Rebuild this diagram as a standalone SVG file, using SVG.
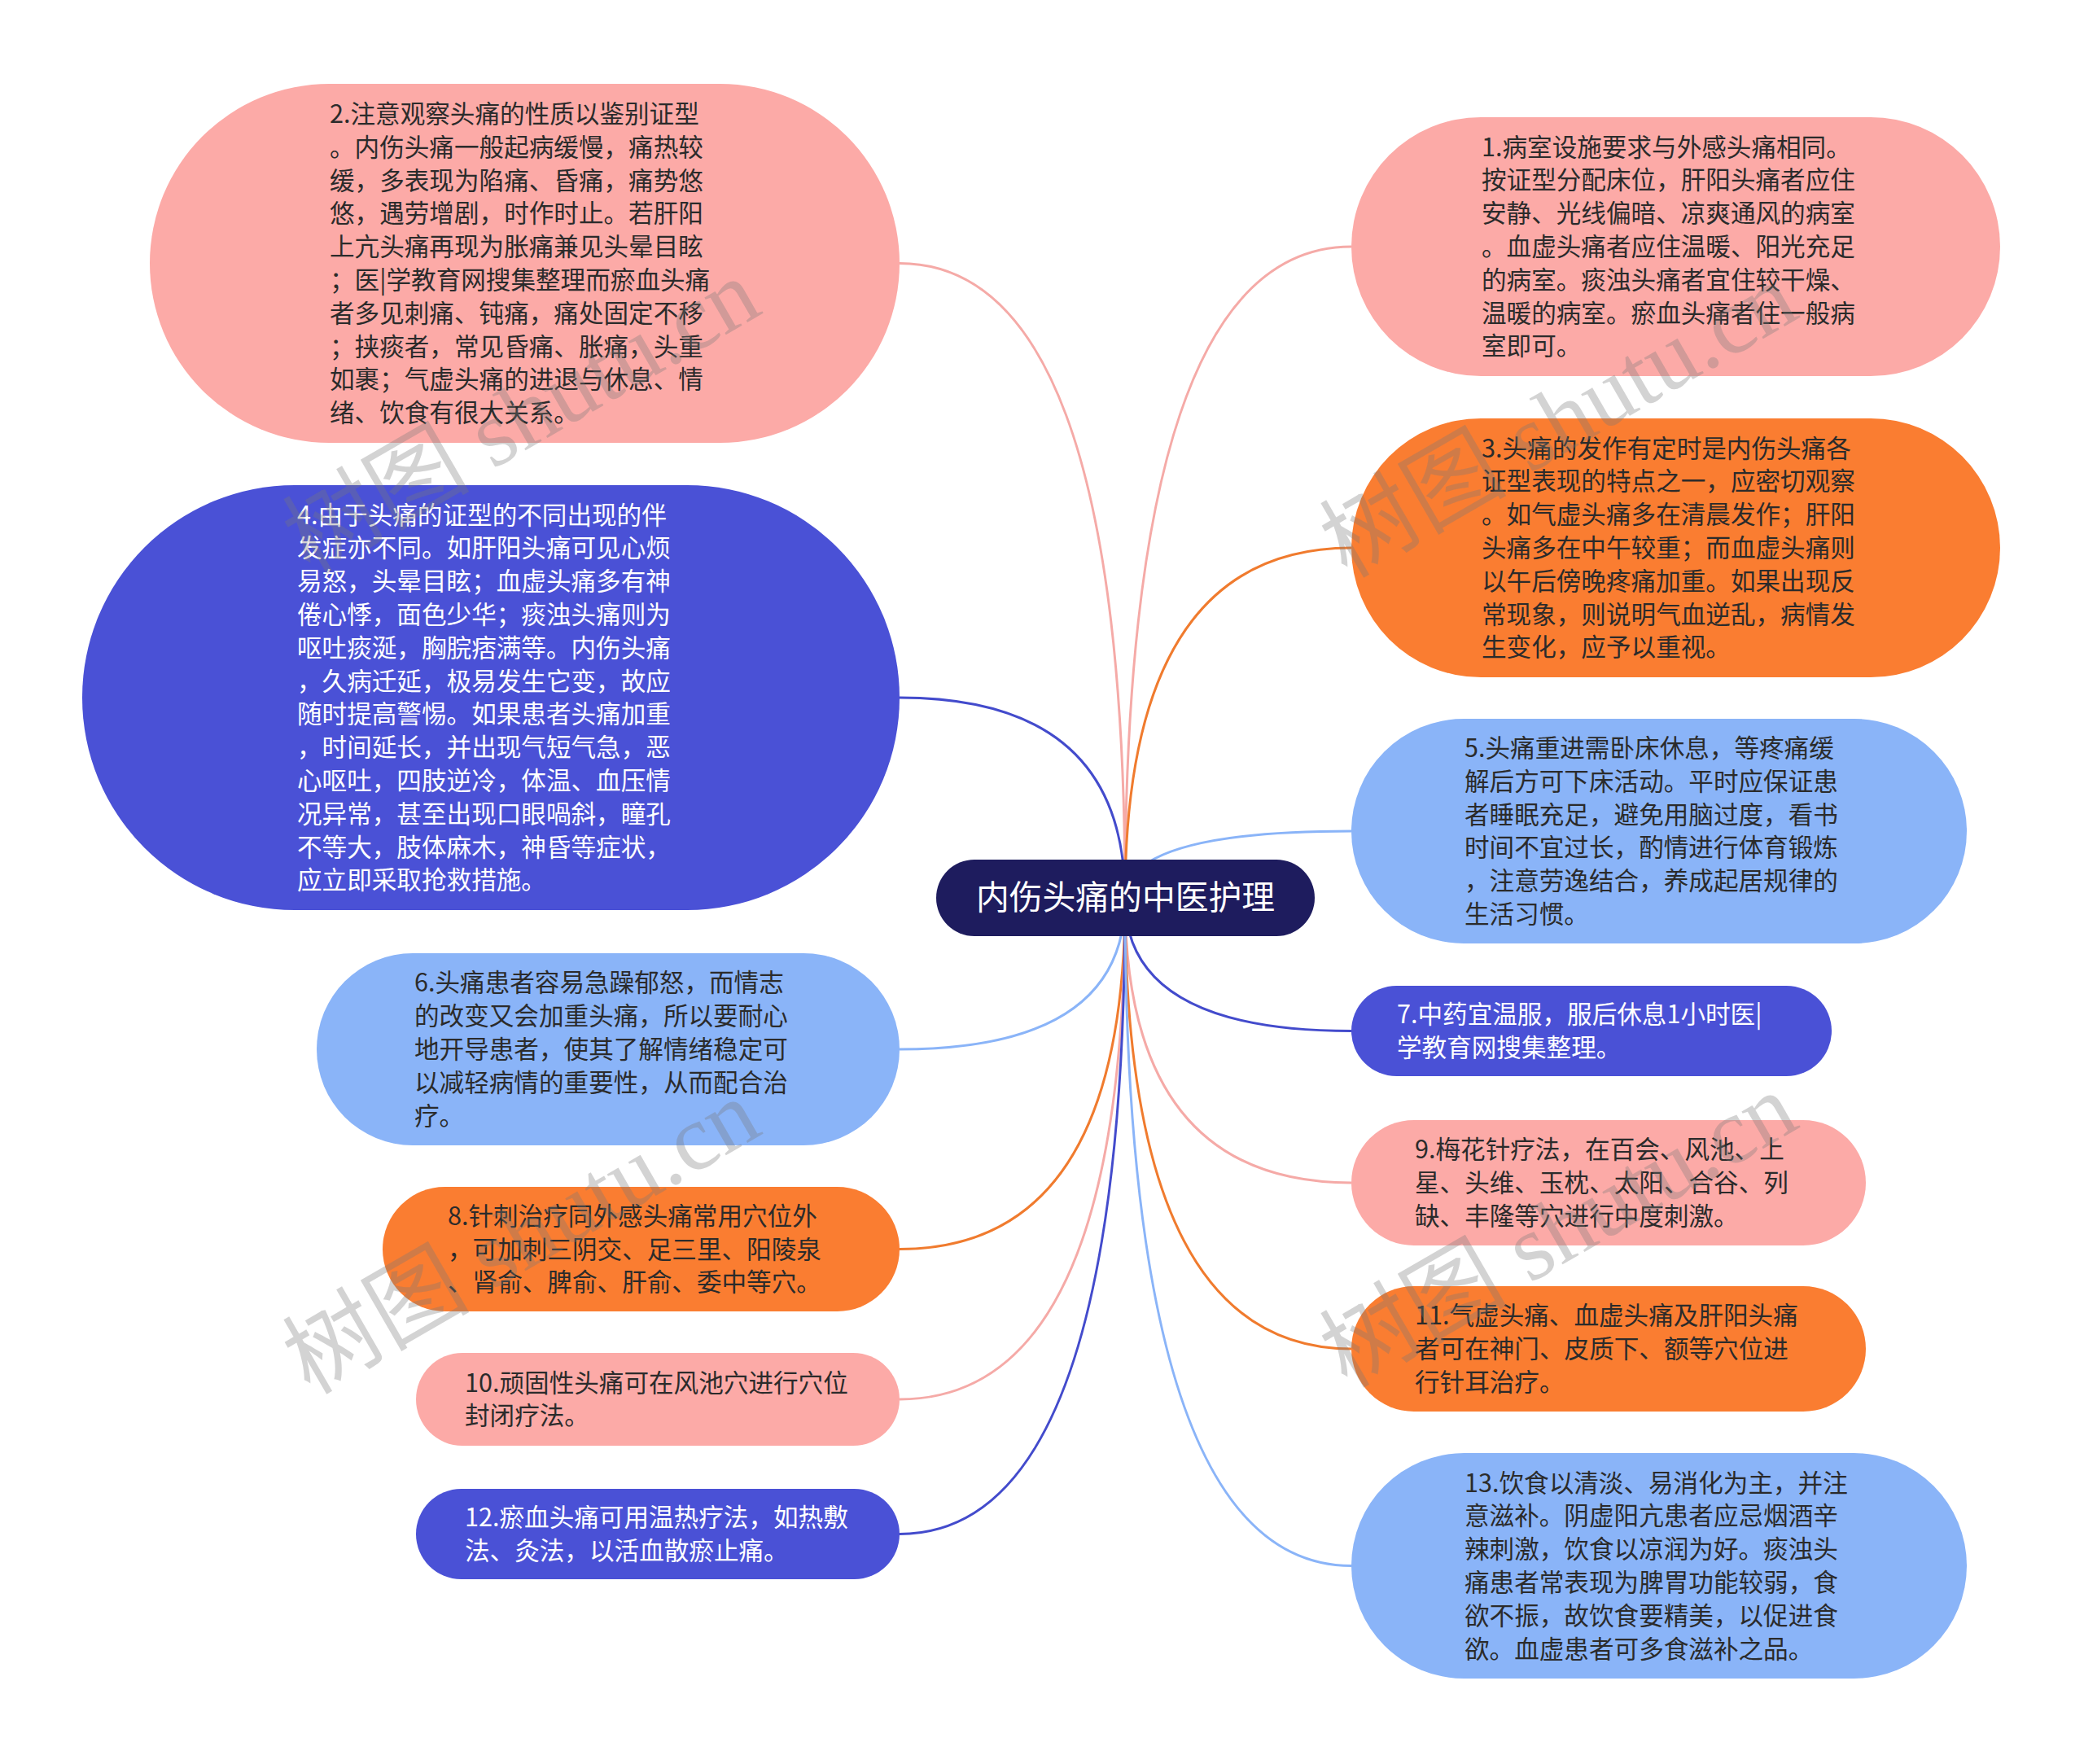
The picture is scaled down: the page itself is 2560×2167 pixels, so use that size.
<svg xmlns="http://www.w3.org/2000/svg" width="2560" height="2167" viewBox="0 0 2560 2167">
<style>
.t{font-family:"Noto Sans CJK SC","Noto Sans",sans-serif;font-size:30.6px;}
.dk{fill:#2b2b2b;}
.wt{fill:#ffffff;}
.c{fill:none;stroke-width:3;}
.cp{stroke:#f5aaa7;}
.co{stroke:#f07b2e;}
.cb{stroke:#434bcc;}
.cl{stroke:#8ab4f8;}
.np{fill:#fcaaa7;}
.no{fill:#fa7d31;}
.nb{fill:#4a51d6;}
.nl{fill:#8ab4f8;}
.wm{font-family:"Liberation Serif","Noto Sans CJK SC",serif;font-size:115px;fill:#7a7a7a;fill-opacity:0.33;}
</style>
<rect width="2560" height="2167" fill="#ffffff"/>
<g id="connectors">
<path class="c cp" d="M1382 1104 Q1382 303 1660 303"/>
<path class="c cp" d="M1382 1104 Q1382 323.5 1105 323.5"/>
<path class="c co" d="M1382 1104 Q1382 673 1660 673"/>
<path class="c cb" d="M1382 1104 Q1382 857 1105 857"/>
<path class="c cl" d="M1382 1104 Q1382 1021 1660 1021"/>
<path class="c cl" d="M1382 1104 Q1382 1289 1105 1289"/>
<path class="c cb" d="M1382 1104 Q1382 1266.5 1660 1266.5"/>
<path class="c co" d="M1382 1104 Q1382 1534.5 1105 1534.5"/>
<path class="c cp" d="M1382 1104 Q1382 1453 1660 1453"/>
<path class="c cp" d="M1382 1104 Q1382 1719 1105 1719"/>
<path class="c co" d="M1382 1104 Q1382 1657 1660 1657"/>
<path class="c cb" d="M1382 1104 Q1382 1884.5 1105 1884.5"/>
<path class="c cl" d="M1382 1104 Q1382 1923.5 1660 1923.5"/>
</g>
<g id="root">
<rect x="1150" y="1056" width="465" height="94" rx="47" fill="#1e1c5e"/>
<text x="1382.5" y="1117" text-anchor="middle" font-family="'Noto Sans CJK SC','Noto Sans',sans-serif" font-size="40.8" fill="#ffffff">内伤头痛的中医护理</text>
</g>
<g id="node1">
<rect class="np" x="1660" y="144" width="797" height="318" rx="159"/>
<text class="t dk"><tspan x="1820" y="191.6">1.病室设施要求与外感头痛相同。</tspan><tspan x="1820" y="232.4">按证型分配床位，肝阳头痛者应住</tspan><tspan x="1820" y="273.2">安静、光线偏暗、凉爽通风的病室</tspan><tspan x="1820" y="314">。血虚头痛者应住温暖、阳光充足</tspan><tspan x="1820" y="354.8">的病室。痰浊头痛者宜住较干燥、</tspan><tspan x="1820" y="395.6">温暖的病室。瘀血头痛者住一般病</tspan><tspan x="1820" y="436.4">室即可。</tspan></text>
</g>
<g id="node2">
<rect class="np" x="184" y="103" width="921" height="441" rx="220.5"/>
<text class="t dk"><tspan x="405" y="150.9">2.注意观察头痛的性质以鉴别证型</tspan><tspan x="405" y="191.7">。内伤头痛一般起病缓慢，痛热较</tspan><tspan x="405" y="232.5">缓，多表现为陷痛、昏痛，痛势悠</tspan><tspan x="405" y="273.3">悠，遇劳增剧，时作时止。若肝阳</tspan><tspan x="405" y="314.1">上亢头痛再现为胀痛兼见头晕目眩</tspan><tspan x="405" y="354.9">；医|学教育网搜集整理而瘀血头痛</tspan><tspan x="405" y="395.7">者多见刺痛、钝痛，痛处固定不移</tspan><tspan x="405" y="436.5">；挟痰者，常见昏痛、胀痛，头重</tspan><tspan x="405" y="477.3">如裹；气虚头痛的进退与休息、情</tspan><tspan x="405" y="518.1">绪、饮食有很大关系。</tspan></text>
</g>
<g id="node3">
<rect class="no" x="1660" y="514" width="797" height="318" rx="159"/>
<text class="t dk"><tspan x="1820" y="561.6">3.头痛的发作有定时是内伤头痛各</tspan><tspan x="1820" y="602.4">证型表现的特点之一，应密切观察</tspan><tspan x="1820" y="643.2">。如气虚头痛多在清晨发作；肝阳</tspan><tspan x="1820" y="684">头痛多在中午较重；而血虚头痛则</tspan><tspan x="1820" y="724.8">以午后傍晚疼痛加重。如果出现反</tspan><tspan x="1820" y="765.6">常现象，则说明气血逆乱，病情发</tspan><tspan x="1820" y="806.4">生变化，应予以重视。</tspan></text>
</g>
<g id="node4">
<rect class="nb" x="101" y="596" width="1004" height="522" rx="261"/>
<text class="t wt"><tspan x="365" y="643.6">4.由于头痛的证型的不同出现的伴</tspan><tspan x="365" y="684.4">发症亦不同。如肝阳头痛可见心烦</tspan><tspan x="365" y="725.2">易怒，头晕目眩；血虚头痛多有神</tspan><tspan x="365" y="766">倦心悸，面色少华；痰浊头痛则为</tspan><tspan x="365" y="806.8">呕吐痰涎，胸脘痞满等。内伤头痛</tspan><tspan x="365" y="847.6">，久病迁延，极易发生它变，故应</tspan><tspan x="365" y="888.4">随时提高警惕。如果患者头痛加重</tspan><tspan x="365" y="929.2">，时间延长，并出现气短气急，恶</tspan><tspan x="365" y="970">心呕吐，四肢逆冷，体温、血压情</tspan><tspan x="365" y="1010.8">况异常，甚至出现口眼喎斜，瞳孔</tspan><tspan x="365" y="1051.6">不等大，肢体麻木，神昏等症状，</tspan><tspan x="365" y="1092.4">应立即采取抢救措施。</tspan></text>
</g>
<g id="node5">
<rect class="nl" x="1660" y="883" width="756" height="276" rx="138"/>
<text class="t dk"><tspan x="1799" y="930">5.头痛重进需卧床休息，等疼痛缓</tspan><tspan x="1799" y="970.8">解后方可下床活动。平时应保证患</tspan><tspan x="1799" y="1011.6">者睡眠充足，避免用脑过度，看书</tspan><tspan x="1799" y="1052.4">时间不宜过长，酌情进行体育锻炼</tspan><tspan x="1799" y="1093.2">，注意劳逸结合，养成起居规律的</tspan><tspan x="1799" y="1134">生活习惯。</tspan></text>
</g>
<g id="node6">
<rect class="nl" x="389" y="1171" width="716" height="236" rx="118"/>
<text class="t dk"><tspan x="509" y="1218.4">6.头痛患者容易急躁郁怒，而情志</tspan><tspan x="509" y="1259.2">的改变又会加重头痛，所以要耐心</tspan><tspan x="509" y="1300">地开导患者，使其了解情绪稳定可</tspan><tspan x="509" y="1340.8">以减轻病情的重要性，从而配合治</tspan><tspan x="509" y="1381.6">疗。</tspan></text>
</g>
<g id="node7">
<rect class="nb" x="1660" y="1211" width="590" height="111" rx="55.5"/>
<text class="t wt"><tspan x="1716" y="1257.1">7.中药宜温服，服后休息1小时医|</tspan><tspan x="1716" y="1297.9">学教育网搜集整理。</tspan></text>
</g>
<g id="node8">
<rect class="no" x="470" y="1458" width="635" height="153" rx="76.5"/>
<text class="t dk"><tspan x="550" y="1504.7">8.针刺治疗同外感头痛常用穴位外</tspan><tspan x="550" y="1545.5">，可加刺三阴交、足三里、阳陵泉</tspan><tspan x="550" y="1586.3">、肾俞、脾俞、肝俞、委中等穴。</tspan></text>
</g>
<g id="node9">
<rect class="np" x="1660" y="1376" width="632" height="154" rx="77"/>
<text class="t dk"><tspan x="1738" y="1423.2">9.梅花针疗法，在百会、风池、上</tspan><tspan x="1738" y="1464">星、头维、玉枕、太阳、合谷、列</tspan><tspan x="1738" y="1504.8">缺、丰隆等穴进行中度刺激。</tspan></text>
</g>
<g id="node10">
<rect class="np" x="511" y="1662" width="594" height="114" rx="57"/>
<text class="t dk"><tspan x="571" y="1709.6">10.顽固性头痛可在风池穴进行穴位</tspan><tspan x="571" y="1750.4">封闭疗法。</tspan></text>
</g>
<g id="node11">
<rect class="no" x="1660" y="1580" width="632" height="154" rx="77"/>
<text class="t dk"><tspan x="1738" y="1627.2">11.气虚头痛、血虚头痛及肝阳头痛</tspan><tspan x="1738" y="1668">者可在神门、皮质下、额等穴位进</tspan><tspan x="1738" y="1708.8">行针耳治疗。</tspan></text>
</g>
<g id="node12">
<rect class="nb" x="511" y="1829" width="594" height="111" rx="55.5"/>
<text class="t wt"><tspan x="571" y="1875.1">12.瘀血头痛可用温热疗法，如热敷</tspan><tspan x="571" y="1915.9">法、灸法，以活血散瘀止痛。</tspan></text>
</g>
<g id="node13">
<rect class="nl" x="1660" y="1785" width="756" height="277" rx="138.5"/>
<text class="t dk"><tspan x="1799" y="1832.5">13.饮食以清淡、易消化为主，并注</tspan><tspan x="1799" y="1873.3">意滋补。阴虚阳亢患者应忌烟酒辛</tspan><tspan x="1799" y="1914.1">辣刺激，饮食以凉润为好。痰浊头</tspan><tspan x="1799" y="1954.9">痛患者常表现为脾胃功能较弱，食</tspan><tspan x="1799" y="1995.7">欲不振，故饮食要精美，以促进食</tspan><tspan x="1799" y="2036.5">欲。血虚患者可多食滋补之品。</tspan></text>
</g>
<g id="watermarks">
<text class="wm" text-anchor="middle" transform="translate(660 545) rotate(-30)">树图 shutu.cn</text>
<text class="wm" text-anchor="middle" transform="translate(1934 550) rotate(-30)">树图 shutu.cn</text>
<text class="wm" text-anchor="middle" transform="translate(660 1553) rotate(-30)">树图 shutu.cn</text>
<text class="wm" text-anchor="middle" transform="translate(1934 1545) rotate(-30)">树图 shutu.cn</text>
</g>
</svg>
